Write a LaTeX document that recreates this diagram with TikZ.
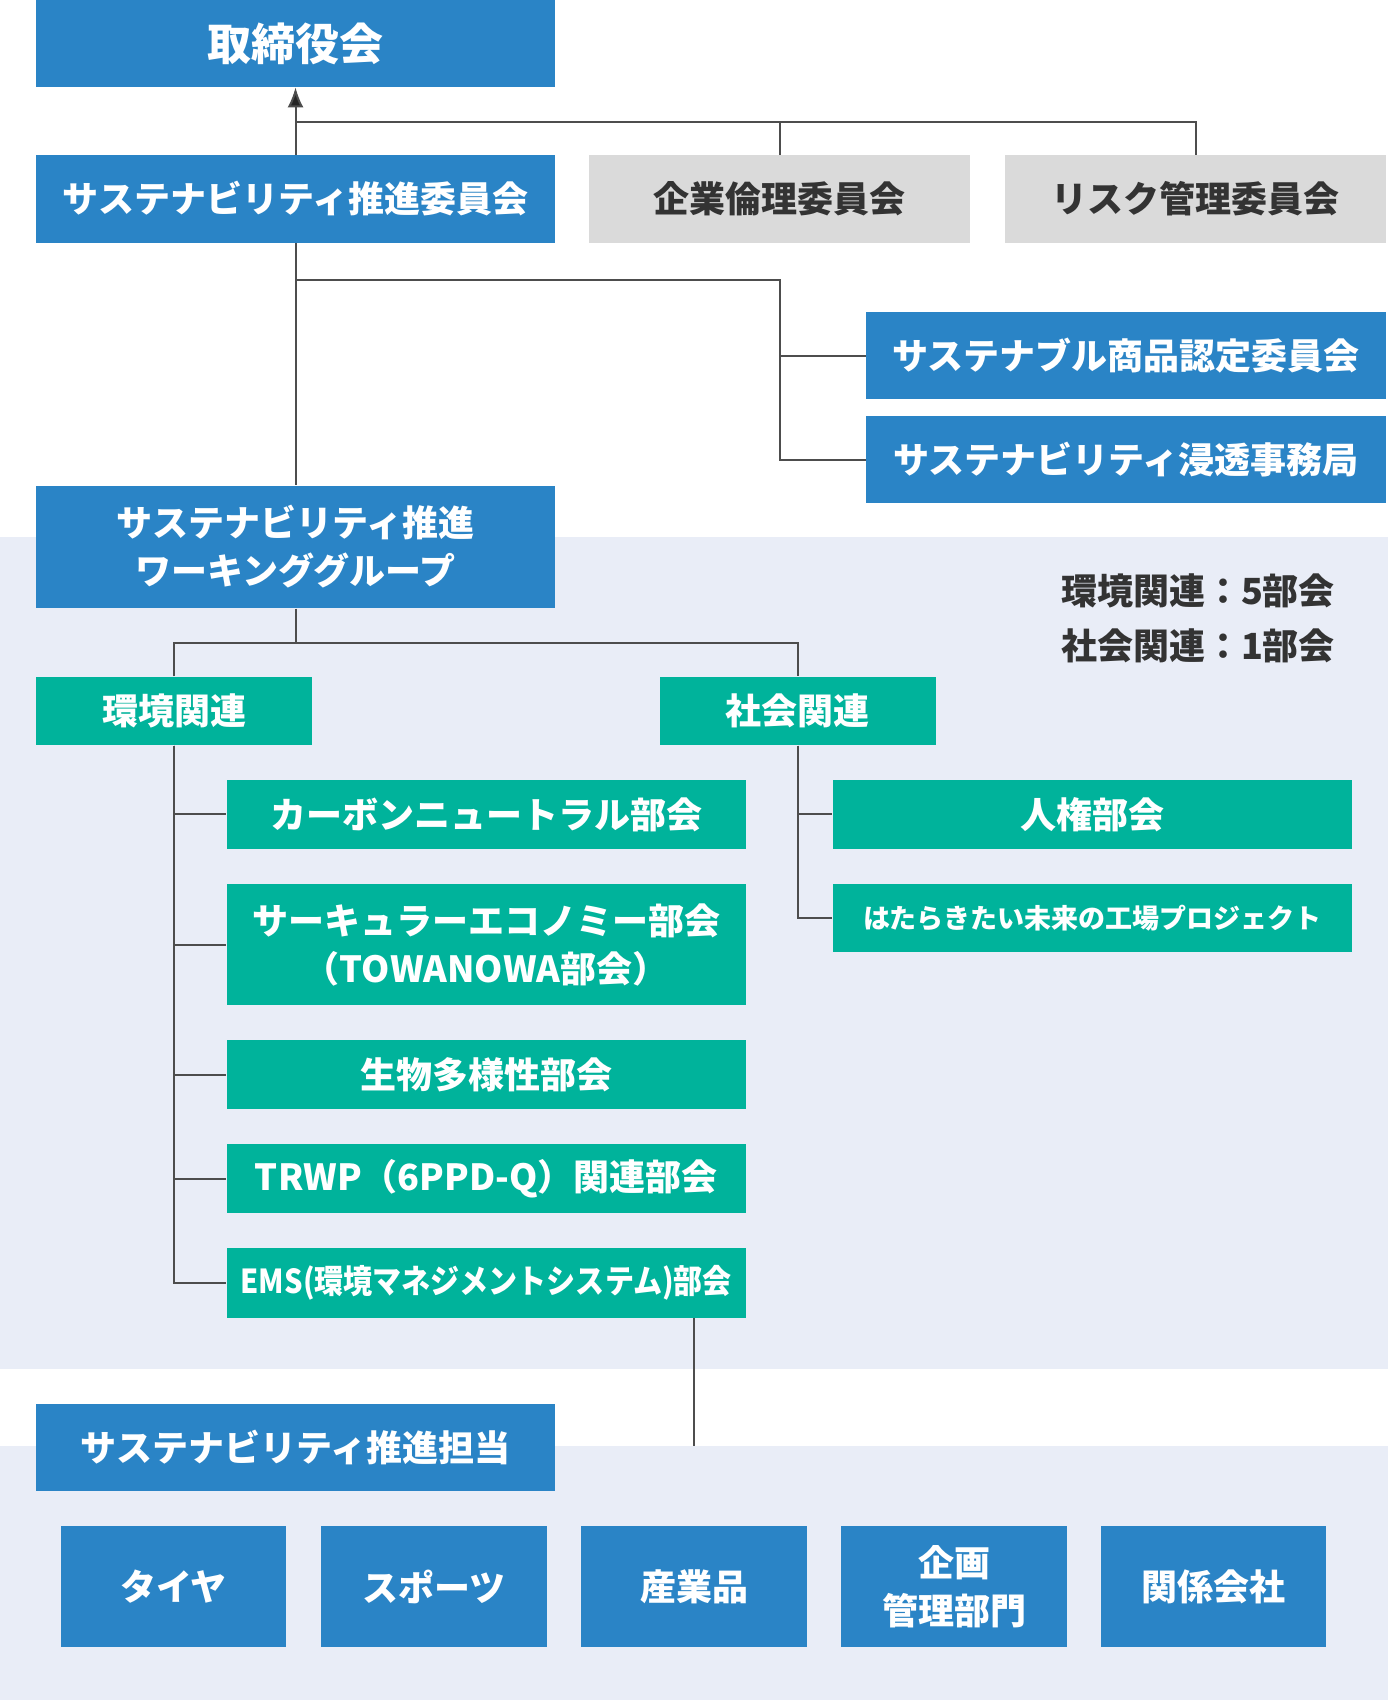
\documentclass[tikz,border=0pt]{standalone}
\usepackage{fontspec}
\setmainfont{Noto Sans CJK JP}
\newfontfamily\condfont[FakeStretch=0.88]{Noto Sans CJK JP}
\usetikzlibrary{arrows.meta,positioning,calc}
\definecolor{orgblue}{RGB}{42,132,198}
\definecolor{orggreen}{RGB}{0,179,155}
\definecolor{orggray}{RGB}{218,218,218}
\definecolor{bandbg}{RGB}{233,237,247}
\definecolor{linegray}{RGB}{77,77,77}
\definecolor{txtgray}{RGB}{51,51,51}
\tikzset{
  orgbox/.style={fill=#1, text=white, inner sep=0pt, align=center,
    font=\bfseries\fontsize{18}{24}\selectfont},
  orgbox/.default=orgblue,
  widebox/.style={orgbox, minimum width=259.5pt, minimum height=43.5pt},
  sidebox/.style={orgbox=orggray, text=txtgray, minimum width=190.7pt, minimum height=44pt},
  groupbox/.style={orgbox=orggreen, minimum width=138pt, minimum height=34.2pt},
  teambox/.style={orgbox=orggreen, minimum width=259.7pt, minimum height=34.7pt},
  unitbox/.style={orgbox, minimum width=112.8pt, minimum height=60.75pt},
  link/.style={draw=linegray, line width=1pt},
  uplink/.style={link, -{Latex[length=10pt,width=8pt,fill=black!85]}},
  notetxt/.style={text=txtgray, anchor=east, font=\bfseries\fontsize{18}{24}\selectfont}
}

\begin{document}
\begin{tikzpicture}[x=0.5pt, y=-0.5pt]
  \useasboundingbox (0,0) rectangle (1388,1700);
  \fill[bandbg] (0,536.8) rectangle (1388,1368.5);
  \fill[bandbg] (0,1445.5) rectangle (1388,1700);

  % committees
  \node[widebox, font=\bfseries\fontsize{22}{26}\selectfont, minimum height=43.5pt] (board) at (295.5,43.5) {取締役会};
  \node[widebox, minimum height=44pt] (promo) at (295.5,199) {サステナビリティ推進委員会};
  \node[sidebox] (ethics) at (779.7,199) {企業倫理委員会};
  \node[sidebox] (risk) at (1195.5,199) {リスク管理委員会};
  \node[widebox, minimum width=260pt] (cert) at (1126,355.7) {サステナブル商品認定委員会};
  \node[widebox, minimum width=260pt] (office) at (1126,459.7) {サステナビリティ浸透事務局};
  \node[widebox, minimum height=61.25pt] (wg) at (295.5,547) {サステナビリティ推進\\ワーキンググループ};

  \node[notetxt] (envnote) at (1342,591) {環境関連：5部会};
  \node[notetxt] (socnote) at (1342,646) {社会関連：1部会};

  % working groups
  \node[groupbox] (env) at (174.2,710.9) {環境関連};
  \node[groupbox] (soc) at (797.5,710.9) {社会関連};
  \node[teambox] (carbon) at (486.3,814.4) {カーボンニュートラル部会};
  \node[teambox, minimum height=60.7pt] (circ) at (486.3,944.5) {サーキュラーエコノミー部会\\（TOWANOWA部会）};
  \node[teambox] (bio) at (486.3,1074.6) {生物多様性部会};
  \node[teambox] (trwp) at (486.3,1178.7) {TRWP（6PPD-Q）関連部会};
  \node[teambox, font=\condfont\bfseries\fontsize{16.5}{22}\selectfont] (ems) at (486.3,1282.8) {EMS(環境マネジメントシステム)部会};
  \node[teambox] (rights) at (1092.5,814.4) {人権部会};
  \node[teambox, minimum height=34.2pt, font=\bfseries\fontsize{13.5}{18}\selectfont] (factory) at (1092.5,918) {はたらきたい未来の工場プロジェクト};

  % business units
  \node[widebox, minimum height=43.4pt] (tanto) at (295.5,1447.7) {サステナビリティ推進担当};
  \node[unitbox] (tire) at (173.5,1586.5) {タイヤ};
  \node[unitbox] (sports) at (433.75,1586.5) {スポーツ};
  \node[unitbox] (ind) at (694,1586.5) {産業品};
  \node[unitbox] (plan) at (954.25,1586.5) {企画\\管理部門};
  \node[unitbox] (affil) at (1213.4,1586.5) {関係会社};

  % connectors
  \coordinate (busA) at (295.5,122.5);
  \coordinate (busB) at (295.5,279.8);
  \coordinate (trunkB) at (780,279.8);
  \coordinate (busC) at (295.5,643);
  \coordinate (bandtop) at (694,1445.5);
  \draw[uplink] (promo.north) -- (board.south);
  \draw[link] (busA) -| (ethics.north);
  \draw[link] (busA) -| (risk.north);
  \draw[link] (promo.south) -- (wg.north);
  \draw[link] (busB) -- (trunkB) |- (cert.west);
  \draw[link] (trunkB) |- (office.west);
  \draw[link] (wg.south) -- (busC);
  \draw[link] (env.north) -- (env.north |- busC) -- (soc.north |- busC) -- (soc.north);
  \foreach \t in {carbon,circ,bio,trwp,ems}
    \draw[link] (env.south) |- (\t.west);
  \foreach \t in {rights,factory}
    \draw[link] (soc.south) |- (\t.west);
  \draw[link] (ems.south -| bandtop) -- (bandtop);
\end{tikzpicture}
\end{document}
